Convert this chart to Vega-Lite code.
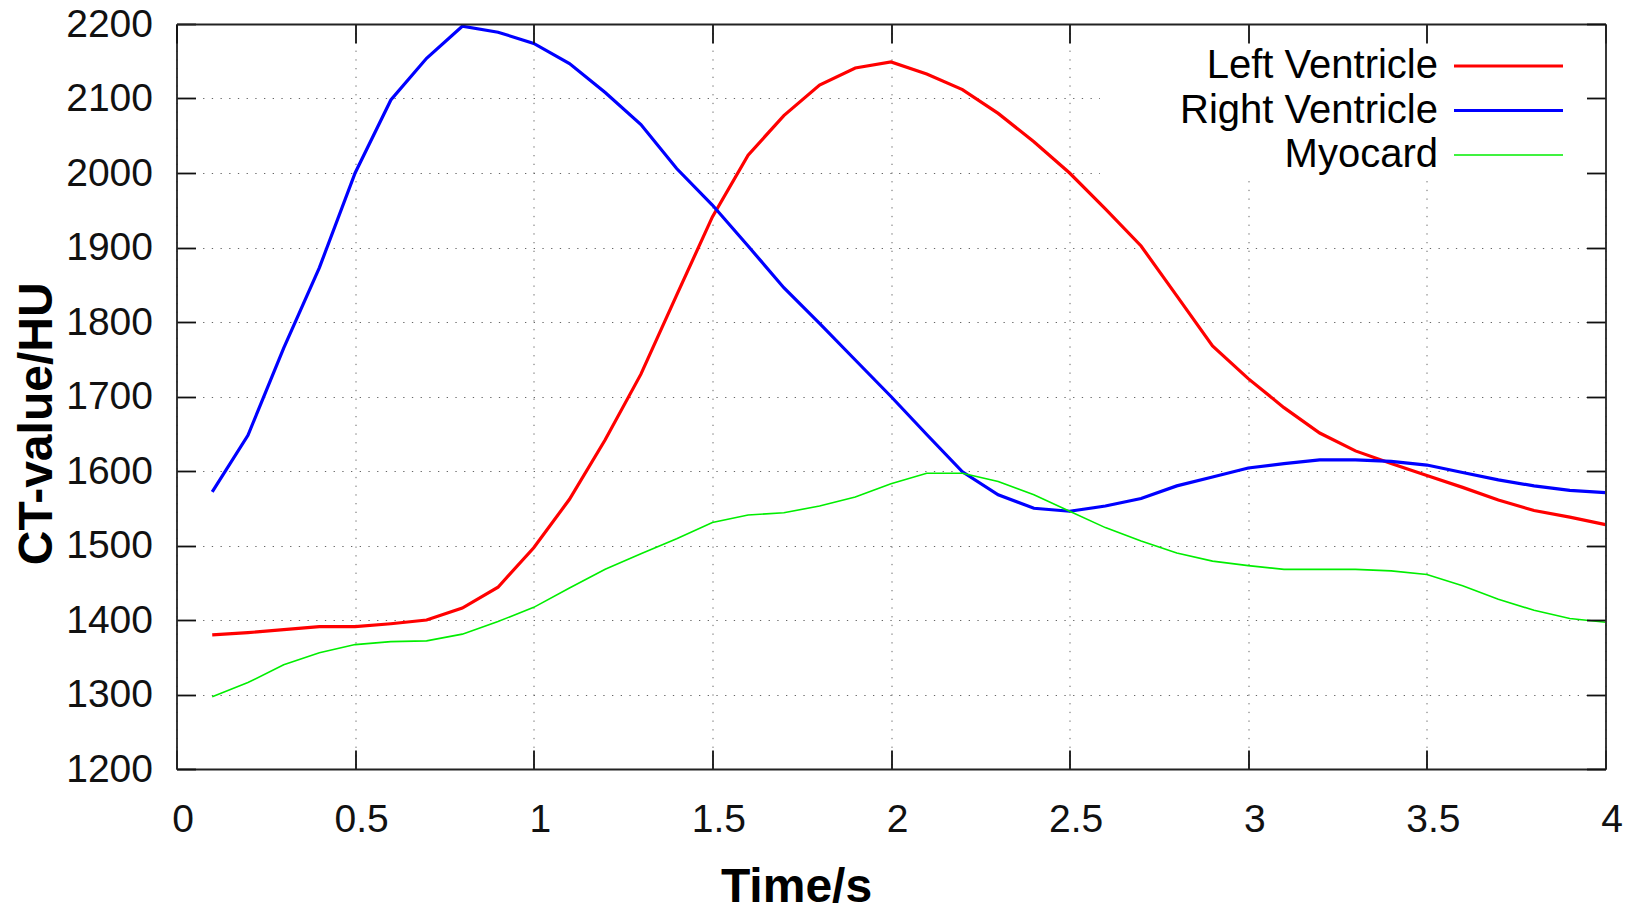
{
  "$schema": "https://vega.github.io/schema/vega-lite/v6.json",
  "width": 1429,
  "height": 745,
  "autosize": {"type": "none"},
  "padding": {"left": 176.5, "top": 24, "right": 30.5, "bottom": 142},
  "background": "white",
  "config": {"view": {"stroke": null}, "font": "Liberation Sans"},
  "data": {"values": [
    {"t":0.1,"series":"Left Ventricle","v":1380},{"t":0.1,"series":"Right Ventricle","v":1572},{"t":0.1,"series":"Myocard","v":1297},
    {"t":0.2,"series":"Left Ventricle","v":1383},{"t":0.2,"series":"Right Ventricle","v":1648},{"t":0.2,"series":"Myocard","v":1316},
    {"t":0.3,"series":"Left Ventricle","v":1387},{"t":0.3,"series":"Right Ventricle","v":1765},{"t":0.3,"series":"Myocard","v":1340},
    {"t":0.4,"series":"Left Ventricle","v":1391},{"t":0.4,"series":"Right Ventricle","v":1873},{"t":0.4,"series":"Myocard","v":1356},
    {"t":0.5,"series":"Left Ventricle","v":1391},{"t":0.5,"series":"Right Ventricle","v":2000},{"t":0.5,"series":"Myocard","v":1367},
    {"t":0.6,"series":"Left Ventricle","v":1395},{"t":0.6,"series":"Right Ventricle","v":2098},{"t":0.6,"series":"Myocard","v":1371},
    {"t":0.7,"series":"Left Ventricle","v":1400},{"t":0.7,"series":"Right Ventricle","v":2154},{"t":0.7,"series":"Myocard","v":1372},
    {"t":0.8,"series":"Left Ventricle","v":1416},{"t":0.8,"series":"Right Ventricle","v":2197},{"t":0.8,"series":"Myocard","v":1381},
    {"t":0.9,"series":"Left Ventricle","v":1444},{"t":0.9,"series":"Right Ventricle","v":2189},{"t":0.9,"series":"Myocard","v":1398},
    {"t":1.0,"series":"Left Ventricle","v":1497},{"t":1.0,"series":"Right Ventricle","v":2174},{"t":1.0,"series":"Myocard","v":1417},
    {"t":1.1,"series":"Left Ventricle","v":1562},{"t":1.1,"series":"Right Ventricle","v":2147},{"t":1.1,"series":"Myocard","v":1443},
    {"t":1.2,"series":"Left Ventricle","v":1642},{"t":1.2,"series":"Right Ventricle","v":2108},{"t":1.2,"series":"Myocard","v":1468},
    {"t":1.3,"series":"Left Ventricle","v":1730},{"t":1.3,"series":"Right Ventricle","v":2065},{"t":1.3,"series":"Myocard","v":1489},
    {"t":1.4,"series":"Left Ventricle","v":1836},{"t":1.4,"series":"Right Ventricle","v":2006},{"t":1.4,"series":"Myocard","v":1509},
    {"t":1.5,"series":"Left Ventricle","v":1941},{"t":1.5,"series":"Right Ventricle","v":1957},{"t":1.5,"series":"Myocard","v":1531},
    {"t":1.6,"series":"Left Ventricle","v":2024},{"t":1.6,"series":"Right Ventricle","v":1902},{"t":1.6,"series":"Myocard","v":1541},
    {"t":1.7,"series":"Left Ventricle","v":2077},{"t":1.7,"series":"Right Ventricle","v":1846},{"t":1.7,"series":"Myocard","v":1544},
    {"t":1.8,"series":"Left Ventricle","v":2118},{"t":1.8,"series":"Right Ventricle","v":1798},{"t":1.8,"series":"Myocard","v":1553},
    {"t":1.9,"series":"Left Ventricle","v":2141},{"t":1.9,"series":"Right Ventricle","v":1749},{"t":1.9,"series":"Myocard","v":1565},
    {"t":2.0,"series":"Left Ventricle","v":2149},{"t":2.0,"series":"Right Ventricle","v":1700},{"t":2.0,"series":"Myocard","v":1583},
    {"t":2.1,"series":"Left Ventricle","v":2133},{"t":2.1,"series":"Right Ventricle","v":1649},{"t":2.1,"series":"Myocard","v":1597},
    {"t":2.2,"series":"Left Ventricle","v":2112},{"t":2.2,"series":"Right Ventricle","v":1599},{"t":2.2,"series":"Myocard","v":1597},
    {"t":2.3,"series":"Left Ventricle","v":2080},{"t":2.3,"series":"Right Ventricle","v":1568},{"t":2.3,"series":"Myocard","v":1586},
    {"t":2.4,"series":"Left Ventricle","v":2042},{"t":2.4,"series":"Right Ventricle","v":1550},{"t":2.4,"series":"Myocard","v":1568},
    {"t":2.5,"series":"Left Ventricle","v":2000},{"t":2.5,"series":"Right Ventricle","v":1546},{"t":2.5,"series":"Myocard","v":1546},
    {"t":2.6,"series":"Left Ventricle","v":1952},{"t":2.6,"series":"Right Ventricle","v":1553},{"t":2.6,"series":"Myocard","v":1524},
    {"t":2.7,"series":"Left Ventricle","v":1902},{"t":2.7,"series":"Right Ventricle","v":1563},{"t":2.7,"series":"Myocard","v":1506},
    {"t":2.8,"series":"Left Ventricle","v":1835},{"t":2.8,"series":"Right Ventricle","v":1580},{"t":2.8,"series":"Myocard","v":1490},
    {"t":2.9,"series":"Left Ventricle","v":1768},{"t":2.9,"series":"Right Ventricle","v":1592},{"t":2.9,"series":"Myocard","v":1479},
    {"t":3.0,"series":"Left Ventricle","v":1724},{"t":3.0,"series":"Right Ventricle","v":1604},{"t":3.0,"series":"Myocard","v":1473},
    {"t":3.1,"series":"Left Ventricle","v":1685},{"t":3.1,"series":"Right Ventricle","v":1610},{"t":3.1,"series":"Myocard","v":1468},
    {"t":3.2,"series":"Left Ventricle","v":1651},{"t":3.2,"series":"Right Ventricle","v":1615},{"t":3.2,"series":"Myocard","v":1468},
    {"t":3.3,"series":"Left Ventricle","v":1627},{"t":3.3,"series":"Right Ventricle","v":1615},{"t":3.3,"series":"Myocard","v":1468},
    {"t":3.4,"series":"Left Ventricle","v":1610},{"t":3.4,"series":"Right Ventricle","v":1613},{"t":3.4,"series":"Myocard","v":1466},
    {"t":3.5,"series":"Left Ventricle","v":1594},{"t":3.5,"series":"Right Ventricle","v":1608},{"t":3.5,"series":"Myocard","v":1461},
    {"t":3.6,"series":"Left Ventricle","v":1578},{"t":3.6,"series":"Right Ventricle","v":1598},{"t":3.6,"series":"Myocard","v":1446},
    {"t":3.7,"series":"Left Ventricle","v":1561},{"t":3.7,"series":"Right Ventricle","v":1588},{"t":3.7,"series":"Myocard","v":1428},
    {"t":3.8,"series":"Left Ventricle","v":1547},{"t":3.8,"series":"Right Ventricle","v":1580},{"t":3.8,"series":"Myocard","v":1413},
    {"t":3.9,"series":"Left Ventricle","v":1538},{"t":3.9,"series":"Right Ventricle","v":1574},{"t":3.9,"series":"Myocard","v":1402},
    {"t":4.0,"series":"Left Ventricle","v":1528},{"t":4.0,"series":"Right Ventricle","v":1571},{"t":4.0,"series":"Myocard","v":1397}
  ]},
  "layer": [
    {
      "mark": {"type": "line", "clip": true},
      "encoding": {
        "x": {
          "field": "t", "type": "quantitative",
          "scale": {"domain": [0, 4], "nice": false, "zero": false},
          "axis": {
            "orient": "bottom",
            "values": [0, 0.5, 1, 1.5, 2, 2.5, 3, 3.5, 4],
            "format": "~g",
            "grid": true, "gridColor": "#666666", "gridWidth": 1, "gridDash": [1.3, 7.4],
            "tickSize": -19, "tickWidth": 1.8, "tickColor": "#111111",
            "domain": true, "domainColor": "#222222", "domainWidth": 1.8,
            "labelFont": "Liberation Sans", "labelFontSize": 39, "labelColor": "#111111",
            "labelPadding": 50.5, "labelOffset": 6, "labelFlush": false, "labelOverlap": false,
            "title": "Time/s", "titleFont": "Liberation Sans", "titleFontSize": 48, "titleFontWeight": "bold",
            "titleColor": "#000000", "titleX": 619.5, "titleY": 132, "titleBaseline": "alphabetic"
          }
        },
        "y": {
          "field": "v", "type": "quantitative",
          "scale": {"domain": [1200, 2200], "nice": false, "zero": false},
          "axis": {
            "orient": "left",
            "values": [1200, 1300, 1400, 1500, 1600, 1700, 1800, 1900, 2000, 2100, 2200],
            "format": "d",
            "grid": true, "gridColor": "#666666", "gridWidth": 1, "gridDash": [1.3, 7.4],
            "tickSize": -19, "tickWidth": 1.8, "tickColor": "#111111",
            "domain": true, "domainColor": "#222222", "domainWidth": 1.8,
            "labelFont": "Liberation Sans", "labelFontSize": 39, "labelColor": "#111111",
            "labelPadding": 43, "labelFlush": false, "labelOverlap": false,
            "title": "CT-value/HU", "titleFont": "Liberation Sans", "titleFontSize": 48, "titleFontWeight": "bold",
            "titleColor": "#000000", "titleX": -124.8, "titleY": 399.3, "titleBaseline": "alphabetic", "titleAngle": 270
          }
        },
        "color": {
          "field": "series", "type": "nominal",
          "scale": {"domain": ["Left Ventricle", "Right Ventricle", "Myocard"], "range": ["#ff0000", "#0000ff", "#00ee00"]},
          "legend": {
            "orient": "none", "legendX": 923.5, "legendY": -2,
            "fillColor": "white", "strokeColor": null, "padding": 5,
            "title": " ", "titleOrient": "top", "titlePadding": 9, "titleFontSize": 10,
            "columns": 1, "direction": "vertical",
            "symbolType": "stroke", "symbolSize": 22801, "symbolStrokeWidth": 3.2,
            "symbolDash": [109, 600], "symbolOffset": 404.5,
            "labelFont": "Liberation Sans", "labelFontSize": 40, "labelColor": "#000000",
            "labelAlign": "right", "labelOffset": -111.5, "labelLimit": 0,
            "rowPadding": 4.5, "zindex": 0,
            "encode": {"symbols": {"update": {"strokeWidth": {"signal": "datum.value === 'Myocard' ? 1.6 : 3.2"}}}}
          }
        },
        "strokeWidth": {"condition": {"test": "datum.series === 'Myocard'", "value": 1.6}, "value": 3.2}
      }
    },
    {
      "mark": {"type": "line", "opacity": 0},
      "encoding": {
        "x": {
          "field": "t", "type": "quantitative",
          "axis": {
            "orient": "top", "values": [0, 0.5, 1, 1.5, 2, 2.5, 3, 3.5, 4],
            "grid": false, "labels": false, "title": null,
            "tickSize": -19, "tickWidth": 1.8, "tickColor": "#111111",
            "domain": true, "domainColor": "#222222", "domainWidth": 1.8, "zindex": 1
          }
        },
        "y": {
          "field": "v", "type": "quantitative",
          "axis": {
            "orient": "right", "values": [1200, 1300, 1400, 1500, 1600, 1700, 1800, 1900, 2000, 2100, 2200],
            "grid": false, "labels": false, "title": null,
            "tickSize": -19, "tickWidth": 1.8, "tickColor": "#111111",
            "domain": true, "domainColor": "#222222", "domainWidth": 1.8, "zindex": 1
          }
        },
        "detail": {"field": "series", "type": "nominal"}
      }
    }
  ],
  "resolve": {"axis": {"x": "independent", "y": "independent"}}
}
